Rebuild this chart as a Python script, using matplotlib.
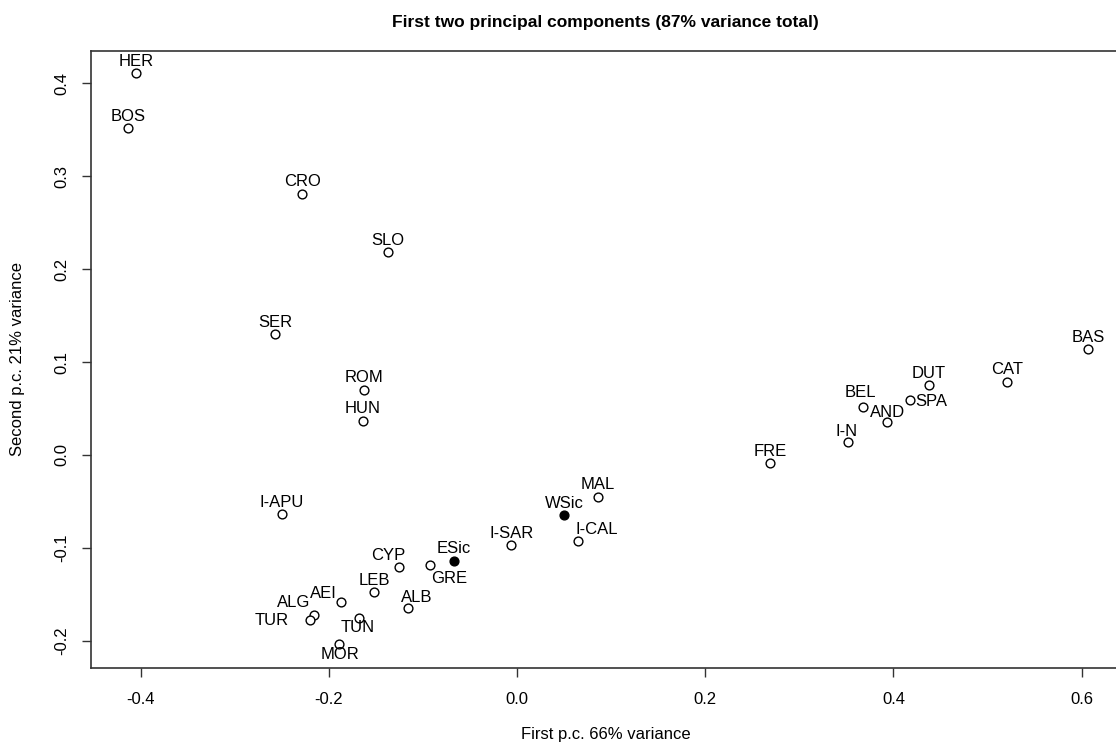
import matplotlib.pyplot as plt
import numpy as np

plt.rcParams["font.family"] = ["Liberation Sans", "DejaVu Sans"]

# population codes and their scores on the first two principal components
labels = ["HER", "BOS", "CRO", "SLO", "SER", "ROM", "HUN", "I-APU",
          "MAL", "WSic", "I-CAL", "I-SAR", "ESic", "GRE", "CYP", "LEB",
          "ALB", "AEI", "ALG", "TUR", "TUN", "MOR",
          "FRE", "I-N", "BEL", "AND", "SPA", "DUT", "CAT", "BAS"]
pc1 = [-0.405, -0.413, -0.228, -0.137, -0.257, -0.163, -0.164, -0.250,
       0.086, 0.050, 0.065, -0.006, -0.067, -0.092, -0.125, -0.152,
       -0.116, -0.187, -0.216, -0.220, -0.168, -0.189,
       0.269, 0.352, 0.368, 0.393, 0.418, 0.438, 0.521, 0.607]
pc2 = [0.411, 0.352, 0.281, 0.218, 0.130, 0.070, 0.037, -0.064,
       -0.045, -0.065, -0.093, -0.097, -0.114, -0.118, -0.121, -0.148,
       -0.165, -0.158, -0.172, -0.178, -0.175, -0.203,
       -0.009, 0.014, 0.052, 0.036, 0.059, 0.075, 0.079, 0.114]
highlighted = ["WSic", "ESic"]

xticks = [-0.4, -0.2, 0.0, 0.2, 0.4, 0.6]
yticks = [-0.2, -0.1, 0.0, 0.1, 0.2, 0.3, 0.4]

# label offsets from the point, in pixels (x right, y down); default is above
label_shift = {
    "I-CAL": (19, -12), "GRE": (19, 14), "CYP": (-11, -12), "ALB": (9, -11),
    "AEI": (-18, -8), "ALG": (-20, -12), "TUR": (-38, 0), "TUN": (-1, 10),
    "MOR": (1, 11), "I-N": (-2, -10), "BEL": (-3, -14), "AND": (1, -9),
    "SPA": (21, 1),
}

W, H = 1116, 742
fig = plt.figure(figsize=(W / 100, H / 100), dpi=100)
left, right, top, bottom = 91, 1120, 51, 668
ax = fig.add_axes([left / W, 1 - bottom / H, (right - left) / W, (bottom - top) / H])

x = np.array(pc1)
y = np.array(pc2)
filled = np.array([lab in highlighted for lab in labels])

ax.scatter(x[~filled], y[~filled], s=40, facecolors="white", edgecolors="black",
           linewidths=1.0, zorder=3, clip_on=False)
ax.scatter(x[filled], y[filled], s=40, facecolors="black", edgecolors="black",
           linewidths=1.0, zorder=3, clip_on=False)

px2pt = 0.72
for lab, xi, yi in zip(labels, x, y):
    dx, dy = label_shift.get(lab, (0, -12))
    ax.annotate(lab, (xi, yi), xytext=(dx * px2pt, -dy * px2pt),
                textcoords="offset points", ha="center", va="center",
                fontsize=12, zorder=4)

ax.set_xlim(-0.4527, (right - 517) / 941)
ax.set_ylim(-0.2293, 0.4349)
ax.set_xticks(xticks)
ax.set_yticks(yticks)
ax.set_xticklabels([f"{v:.1f}" for v in xticks])
ax.set_yticklabels([f"{v:.1f}" for v in yticks], rotation=90, va="center")
ax.tick_params(length=6.5, width=1.0, color="#333333", labelsize=12, pad=9)
ax.tick_params(axis="x", pad=11)
for sp in ax.spines.values():
    sp.set_linewidth(1.2)
    sp.set_color("#333333")

cx = (left + right) / 2 / W
fig.text(cx, 1 - 22 / H,
         "First two principal components (87% variance total)",
         ha="center", va="center", fontsize=12.5, fontweight="bold")
fig.text(cx, 1 - 735 / H, "First p.c. 66% variance",
         ha="center", va="center", fontsize=12)
fig.text(18 / W, 1 - (top + bottom) / 2 / H, "Second p.c. 21% variance",
         ha="center", va="center", rotation=90, fontsize=12)

fig.savefig("out.png", dpi=100)
